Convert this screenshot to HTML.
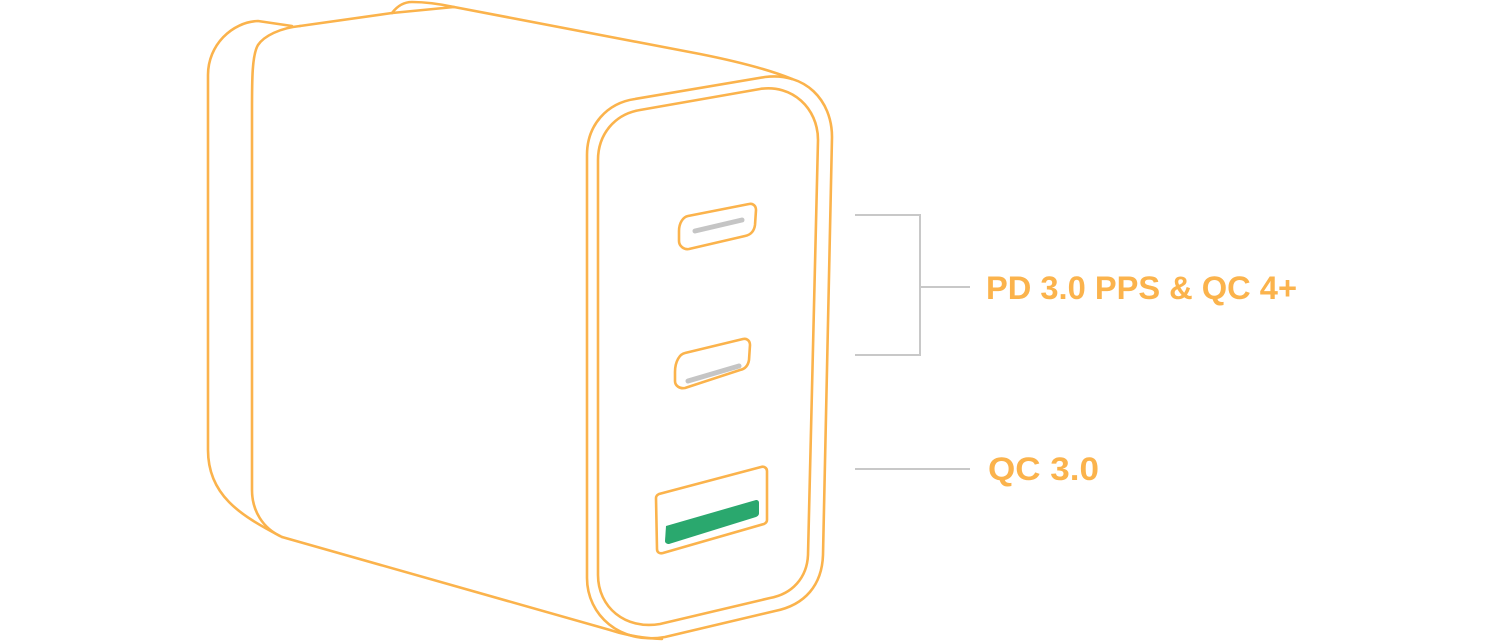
<!DOCTYPE html>
<html><head><meta charset="utf-8"><style>
html,body{margin:0;padding:0;background:#fff;}
svg{display:block;}
</style></head><body>
<svg width="1500" height="641" viewBox="0 0 1500 641" xmlns="http://www.w3.org/2000/svg">
<g fill="none" stroke="#fbb34c" stroke-width="2.6" stroke-linejoin="round" stroke-linecap="round">
  <path d="M292,26 L258,21 C232,22 208,45 208,75 L208,450 C208,495 240,515 280,536"/>
  <path d="M300,26 C280,28 264,36 258,45 C252,55 252,80 252,110 L252,490 C252,510 262,528 282,537"/>
  <path d="M300,26 L392,13"/>
  <path d="M392,13 C398,5 405,2 412,2 C425,2 440,4 454,7"/>
  <path d="M392,13 L454,7 L700,54 C740,62 770,70 792,79"/>
  <path d="M282,537 L610,630 C625,635 640,638 662,639"/>
  <path d="M635,99 L765,77 C805,72 832,100 832,137 L823,555 C822,585 805,605 775,611 L665,637 C620,645 587,615 587,578 L587,155 C587,125 607,103 635,99 Z"/>
  <path d="M640,110 L760,89 C792,84 818,108 818,140 L808,555 C807,578 792,594 770,598 L660,624 C625,630 598,607 598,575 L598,160 C598,134 615,114 640,110 Z"/>
  <path d="M688,216 L749,204 C753,203 756,206 756,210 L755,225 C754,232 750,235 745,236 L689,249 C684,250 679,246 679,241 L679,231 C679,223 683,217 688,216 Z"/>
  <path d="M685,353 L743,339 C747,338 750,341 750,345 L749,360 C748,366 745,369 740,370 L685,388 C680,389 675,386 675,381 L675,372 C675,361 680,354 685,353 Z"/>
  <path d="M659,494 L761,467 C764,466 767,468 767,471 L767,520 C767,522 766,523 764,524 L663,553 C659,554 657,552 657,549 L656,498 C656,496 657,495 659,494 Z"/>
</g>
<line x1="695" y1="231" x2="742" y2="220" stroke="#c5c5c5" stroke-width="5" stroke-linecap="round"/>
<line x1="688" y1="381" x2="739" y2="366" stroke="#c5c5c5" stroke-width="5" stroke-linecap="round"/>
<path d="M666,526 L756,500 C758,500 759,501 759,503 L759,513 C759,515 758,516 756,517 L669,544 C667,544 665,543 665,541 Z" fill="#2aa86e"/>
<g stroke="#c8c8c8" stroke-width="2" fill="none">
  <path d="M855,215 L920,215 L920,355 L855,355"/>
  <line x1="920" y1="287" x2="970" y2="287"/>
  <line x1="855" y1="469" x2="970" y2="469"/>
</g>
<g fill="#fbb34c" font-family="Liberation Sans, sans-serif" font-weight="bold" font-size="32">
  <text x="986" y="299" textLength="311" lengthAdjust="spacingAndGlyphs">PD 3.0 PPS &amp; QC 4+</text>
  <text x="988" y="480" textLength="111" lengthAdjust="spacingAndGlyphs">QC 3.0</text>
</g>
</svg>
</body></html>
